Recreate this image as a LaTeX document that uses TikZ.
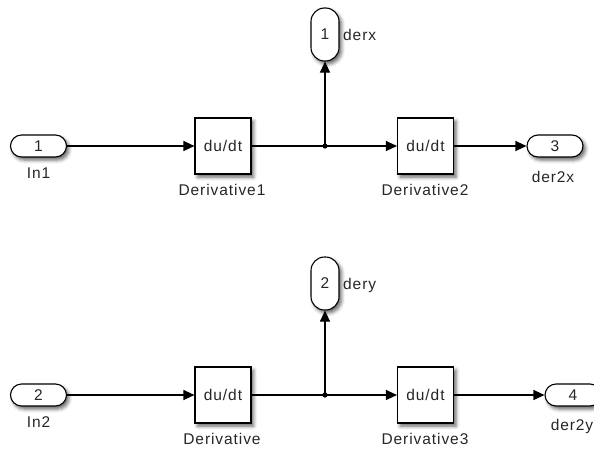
\documentclass[tikz,border=0pt]{standalone}
\usepackage{fontspec}
\setmainfont{Liberation Sans}[LetterSpace=6]
\usetikzlibrary{arrows.meta,shadows.blur}

\begin{document}
\begin{tikzpicture}[x=1pt,y=-1pt,
  every node/.style={font=\fontsize{15.5pt}{17pt}\selectfont, text=black!85},
  shade/.style={blur shadow={shadow xshift=2.5pt, shadow yshift=-3pt,
                shadow blur radius=3.5pt, shadow opacity=60}},
  blk/.style={draw=black, line width=1.1pt, fill=white, minimum size=56pt,
              inner sep=0pt, shade},
  hport/.style={draw=black, line width=1.1pt, fill=white, rounded corners=11pt,
                minimum width=56pt, minimum height=22pt, inner sep=0pt, shade},
  vport/.style={draw=black, line width=1.1pt, fill=white, rounded corners=13.5pt,
                minimum width=28pt, minimum height=53pt, inner sep=0pt, shade},
  wire/.style={line width=1.1pt, draw=black},
  sig/.style={wire, -{Triangle[length=11pt,width=10pt]}},
  lbl/.style={inner sep=0pt}
]
\useasboundingbox (0,0) rectangle (594,450);

% ---- first channel ----
\node[hport] (in1) at (38.5,146) {1};
\node[lbl] (in1l) at (38.5,173) {In1};
\node[blk] (d1) at (223,146) {du/dt};
\node[lbl] (d1l) at (222,190) {Derivative1};
\coordinate (j1) at (325,146);
\node[vport] (o1) at (325,34.5) {1};
\node[lbl, anchor=west] (o1l) at (343,35) {derx};
\node[blk] (d2) at (425.5,146) {du/dt};
\node[lbl] (d2l) at (425,190) {Derivative2};
\node[hport] (o3) at (555,146) {3};
\node[lbl] (o3l) at (553,177) {der2x};

\draw[sig] (in1) -- (d1);
\draw[wire] (d1) -- (j1);
\draw[sig] (j1) -- (d2);
\draw[sig] (j1) -- (o1);
\draw[sig] (d2) -- (o3);
\fill (j1) circle (2.6pt);

% ---- second channel ----
\node[hport] (in2) at (38.5,395) {2};
\node[lbl] (in2l) at (38.5,422) {In2};
\node[blk] (d0) at (223,395) {du/dt};
\node[lbl] (d0l) at (222,439) {Derivative};
\coordinate (j2) at (325,395);
\node[vport] (o2) at (325,283.5) {2};
\node[lbl, anchor=west] (o2l) at (343,285) {dery};
\node[blk] (d3) at (425.5,395) {du/dt};
\node[lbl] (d3l) at (425,439) {Derivative3};
\node[hport] (o4) at (573,395) {4};
\node[lbl] (o4l) at (572,426) {der2y};

\draw[sig] (in2) -- (d0);
\draw[wire] (d0) -- (j2);
\draw[sig] (j2) -- (d3);
\draw[sig] (j2) -- (o2);
\draw[sig] (d3) -- (o4);
\fill (j2) circle (2.6pt);
\end{tikzpicture}
\end{document}
